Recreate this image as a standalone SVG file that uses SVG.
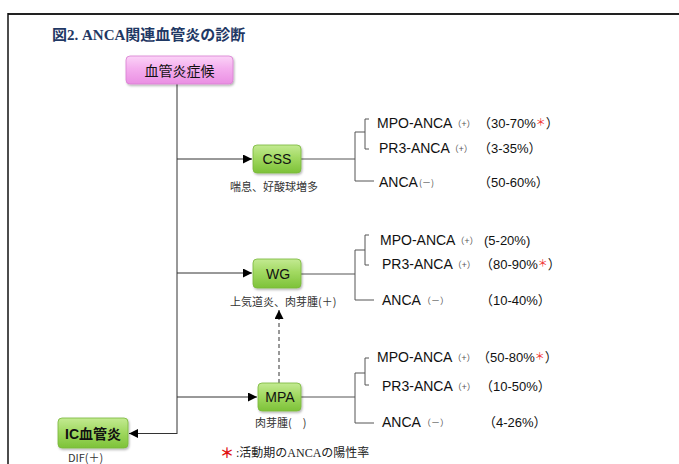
<svg xmlns="http://www.w3.org/2000/svg" width="679" height="464" viewBox="0 0 679 464">
<style>
.ln{stroke:#555;stroke-width:1;fill:none}
.tr{stroke:#333;stroke-width:1;fill:none}
.t{font-family:"Liberation Sans","Noto Sans CJK JP",sans-serif;font-size:14px;fill:#111}
.pm{font-family:"Noto Sans CJK JP",sans-serif;font-size:9px;fill:#555}
.num{font-family:"Liberation Sans","Noto Sans CJK JP",sans-serif;font-size:13px;fill:#111}
.fp{font-family:"Noto Sans CJK JP",sans-serif}
.ast{fill:#F03030;font-family:"Noto Sans CJK JP",sans-serif;font-size:10px}
.bx{font-family:"Liberation Sans","Noto Sans CJK JP",sans-serif;font-size:14px;fill:#111;text-anchor:middle}
.lb{font-family:"Noto Sans CJK JP",sans-serif;font-size:11px;fill:#333}
</style>
<defs>
<linearGradient id="gG" x1="0" y1="0" x2="0" y2="1"><stop offset="0" stop-color="#C3EA92"/><stop offset="0.45" stop-color="#A2D962"/><stop offset="1" stop-color="#7DC238"/></linearGradient>
<linearGradient id="gP" x1="0" y1="0" x2="0" y2="1"><stop offset="0" stop-color="#FBD3F7"/><stop offset="0.45" stop-color="#F4AEEE"/><stop offset="1" stop-color="#EA8FE3"/></linearGradient>
<filter id="sh" x="-20%" y="-20%" width="140%" height="150%"><feDropShadow dx="1" dy="1.5" stdDeviation="1.2" flood-color="#000" flood-opacity="0.3"/></filter>
<marker id="ah" viewBox="0 0 10 10" refX="10" refY="5" markerWidth="9" markerHeight="9" orient="auto" markerUnits="userSpaceOnUse"><path d="M0,0 L10,5 L0,10z" fill="#000"/></marker>
</defs>
<rect width="679" height="464" fill="#fff"/>
<!-- frame -->
<line x1="8" y1="14" x2="679" y2="14" stroke="#222" stroke-width="2"/>
<line x1="8" y1="13" x2="8" y2="464" stroke="#111" stroke-width="1.5"/>
<text x="52" y="40" font-family="'Liberation Serif','Noto Sans CJK JP',serif" font-size="15" font-weight="bold" fill="#1F3864">図2. ANCA関連血管炎の診断</text>

<g id="connectors">
<path class="tr" d="M177,84 V434"/>
<line class="tr" x1="177" y1="159" x2="252" y2="159" marker-end="url(#ah)"/>
<line class="tr" x1="177" y1="273" x2="252" y2="273" marker-end="url(#ah)"/>
<line class="tr" x1="177" y1="397" x2="257" y2="397" marker-end="url(#ah)"/>
<line class="tr" x1="177" y1="433.5" x2="129" y2="433.5" marker-end="url(#ah)"/>
<line class="tr" x1="279" y1="383" x2="279" y2="310" stroke-dasharray="4,3" marker-end="url(#ah)"/>
<!-- CSS branches -->
<path class="ln" d="M301,159 H355 M355,132 V181 H374 M355,132 H365 M369,119 H365 V149 H369"/>
<!-- WG branches -->
<path class="ln" d="M301,274 H355 M355,250 V300 H374 M355,250 H365 M369,235 H365 V265 H369"/>
<!-- MPA branches -->
<path class="ln" d="M301,397 H355 M355,373 V423 H374 M355,373 H365 M369,358 H365 V385 H369"/>
</g>

<g id="n-symptom">
<rect x="126" y="56" width="107" height="28" rx="4" fill="url(#gP)" stroke="#D97ED2" stroke-width="0.8" filter="url(#sh)"/>
<text class="bx" x="179.5" y="75.5" font-size="15">血管炎症候</text>
</g>

<g id="n-css">
<rect x="253" y="145" width="48" height="28" rx="4" fill="url(#gG)" stroke="#78B83A" stroke-width="0.8" filter="url(#sh)"/>
<text class="bx" x="277" y="164">CSS</text>
<text class="lb" x="230" y="191">喘息、好酸球増多</text>
</g>

<g id="n-wg">
<rect x="253" y="259" width="48" height="29" rx="4" fill="url(#gG)" stroke="#78B83A" stroke-width="0.8" filter="url(#sh)"/>
<text class="bx" x="278" y="278.5">WG</text>
<text class="lb" x="230" y="306">上気道炎、肉芽腫(＋)</text>
</g>

<g id="n-mpa">
<rect x="258" y="383" width="43" height="28" rx="4" fill="url(#gG)" stroke="#78B83A" stroke-width="0.8" filter="url(#sh)"/>
<text class="bx" x="280" y="402">MPA</text>
<text class="lb" x="255" y="427">肉芽腫(　)</text>
</g>

<g id="n-ic">
<rect x="58" y="418" width="70" height="30" rx="4" fill="url(#gG)" stroke="#78B83A" stroke-width="0.8" filter="url(#sh)"/>
<text class="bx" x="93" y="438.5" font-size="15" font-weight="bold">IC血管炎</text>
<text class="lb" x="68" y="462">DIF(＋)</text>
</g>

<g id="css-results">
<text class="t" x="377" y="128">MPO-ANCA<tspan class="pm" dy="-1">（+）</tspan></text>
<text class="num" x="478" y="128"><tspan class="fp">（</tspan>30-70%<tspan class="ast" dy="-2">＊</tspan><tspan class="fp" dy="2">）</tspan></text>
<text class="t" x="379" y="153">PR3-ANCA<tspan class="pm" dy="-1">（+）</tspan></text>
<text class="num" x="478" y="153"><tspan class="fp">（</tspan>3-35%）</text>
<text class="t" x="379" y="187">ANCA<tspan class="pm" dx="1" dy="-1">(－)</tspan></text>
<text class="num" x="478" y="187"><tspan class="fp">（</tspan>50-60%）</text>
</g>

<g id="wg-results">
<text class="t" x="380" y="245">MPO-ANCA<tspan class="pm" dy="-1">（+）</tspan></text>
<text class="num" x="484" y="245">(5-20%)</text>
<text class="t" x="382" y="269">PR3-ANCA<tspan class="pm" dy="-1">（+）</tspan></text>
<text class="num" x="480" y="269"><tspan class="fp">（</tspan>80-90%<tspan class="ast" dy="-2">＊</tspan><tspan class="fp" dy="2">）</tspan></text>
<text class="t" x="382" y="305">ANCA<tspan class="pm" dx="1" dy="-1">（－）</tspan></text>
<text class="num" x="480" y="305"><tspan class="fp">（</tspan>10-40%）</text>
</g>

<g id="mpa-results">
<text class="t" x="377" y="362">MPO-ANCA<tspan class="pm" dy="-1">（+）</tspan></text>
<text class="num" x="477" y="362"><tspan class="fp">（</tspan>50-80%<tspan class="ast" dy="-2">＊</tspan><tspan class="fp" dy="2">）</tspan></text>
<text class="t" x="382" y="391">PR3-ANCA<tspan class="pm" dy="-1">（+）</tspan></text>
<text class="num" x="480" y="391"><tspan class="fp">（</tspan>10-50%）</text>
<text class="t" x="382" y="427">ANCA<tspan class="pm" dx="1" dy="-1">（－）</tspan></text>
<text class="num" x="483" y="427"><tspan class="fp">（</tspan>4-26%）</text>
</g>

<g id="footnote">
<text x="220" y="458" font-family="'Noto Sans CJK JP',sans-serif" font-size="14" font-weight="bold" fill="#E01010">＊</text>
<text x="236" y="457" font-family="'Liberation Serif','Noto Sans CJK JP',serif" font-size="12" fill="#222">:活動期のANCAの陽性率</text>
</g>
</svg>
